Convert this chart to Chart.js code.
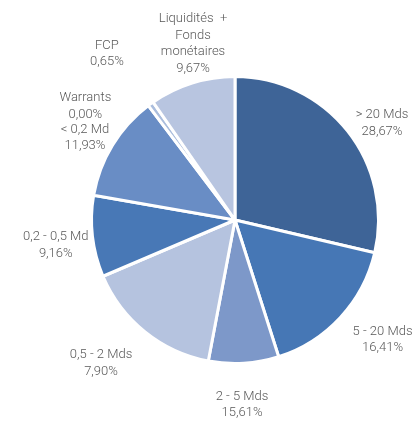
<!DOCTYPE html>
<html>
<head>
<meta charset="utf-8">
<script src="https://cdn.jsdelivr.net/npm/chart.js@4/dist/chart.umd.min.js"></script>
<style>
  html, body { margin: 0; padding: 0; background: #fff; }
  #wrap { width: 414px; height: 421px; }
</style>
</head>
<body>
<div id="wrap"><canvas id="pieChart" width="414" height="421"></canvas></div>
<script>
// categories in drawing order (clockwise from 12 o'clock)
const categories = [
  "> 20 Mds",
  "5 - 20 Mds",
  "2 - 5 Mds",
  "0,5 - 2 Mds",
  "0,2 - 0,5 Md",
  "< 0,2 Md",
  "Warrants",
  "FCP",
  "Liquidités  +\nFonds\nmonétaires",
];
// slice sizes as drawn
const sliceValues = [28.67, 16.41, 7.9, 15.61, 9.16, 11.93, 0.0, 0.65, 9.67];
// percentages printed next to each slice
const labelValues = [28.67, 16.41, 15.61, 7.9, 9.16, 11.93, 0.0, 0.65, 9.67];

const colors = [
  "#3e6497",
  "#4677b5",
  "#7d98c9",
  "#b5c3df",
  "#4878b6",
  "#698dc5",
  "#b5c3df",
  "#aabddd",
  "#b8c5e0",
];

// label placement: distance from centre and angle shift (deg) from mid-slice
const labelDist = [176, 190, 185, 196, 181, 171, 188, 210, 181];
const labelShift = [5, -3.7, 1.3, 4.3, -1.4, -2.7, -15.6, -1.6, 4];

const fmtPct = (v) => v.toFixed(2).replace(".", ",") + "%";

const outsideLabels = {
  id: "outsideLabels",
  afterDatasetsDraw(chart) {
    const { ctx } = chart;
    const arcs = chart.getDatasetMeta(0).data;
    ctx.save();
    ctx.font = "300 13px Roboto";
    ctx.fillStyle = "#595959";
    ctx.textAlign = "center";
    ctx.textBaseline = "middle";
    const lh = 16.6;
    arcs.forEach((arc, i) => {
      const mid = (arc.startAngle + arc.endAngle) / 2 + (labelShift[i] * Math.PI) / 180;
      const cx = arc.x + labelDist[i] * Math.cos(mid);
      const cy = arc.y + labelDist[i] * Math.sin(mid);
      const lines = categories[i].split("\n").concat(fmtPct(labelValues[i]));
      const top = cy - ((lines.length - 1) * lh) / 2;
      lines.forEach((t, k) => ctx.fillText(t, cx, top + k * lh));
    });
    ctx.restore();
  },
};

new Chart(document.getElementById("pieChart"), {
  type: "pie",
  data: {
    labels: categories,
    datasets: [
      {
        data: sliceValues,
        backgroundColor: colors,
        borderColor: "#ffffff",
        borderWidth: 3,
      },
    ],
  },
  options: {
    responsive: false,
    animation: false,
    layout: { padding: { top: 75, bottom: 56, left: 90, right: 34 } },
    plugins: {
      legend: { display: false },
      tooltip: { enabled: false },
    },
  },
  plugins: [outsideLabels],
});
</script>
</body>
</html>
